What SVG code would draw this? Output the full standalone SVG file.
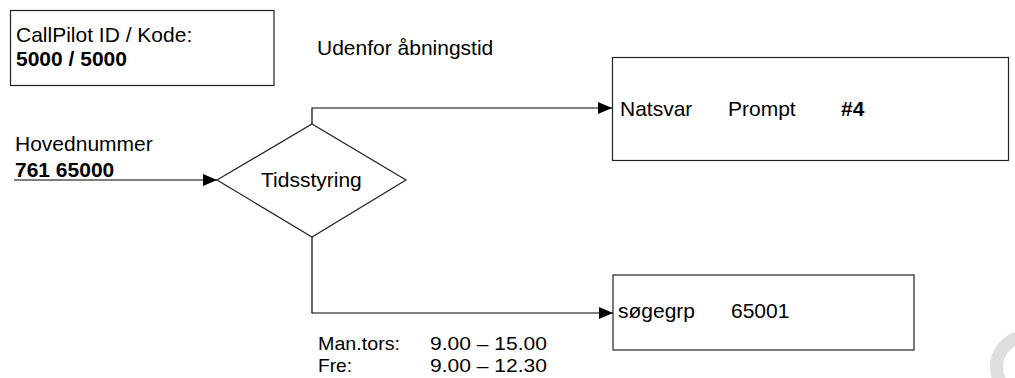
<svg xmlns="http://www.w3.org/2000/svg" width="1015" height="378" viewBox="0 0 1015 378">
  <defs>
    <marker id="arrow" markerWidth="14" markerHeight="12" refX="14" refY="6" orient="auto" markerUnits="userSpaceOnUse">
      <path d="M0,0 L14,6 L0,12 Z" fill="#000"/>
    </marker>
  </defs>
  <style>
    text { font-family: "Liberation Sans", Arial, sans-serif; font-size: 21px; fill: #000; }
    .b { font-weight: bold; }
    .sm { font-size: 19px; }
    .box { fill: #fff; stroke: #222; stroke-width: 1.2; }
    .conn { fill: none; stroke: #000; stroke-width: 1.2; }
  </style>
  <rect width="1015" height="378" fill="#fff"/>
  <circle cx="1027" cy="367" r="30.5" fill="none" stroke="#dedede" stroke-width="13"/>

  <g id="callpilot">
    <rect class="box" x="10.5" y="10.5" width="263.5" height="75"/>
    <text x="16" y="42">CallPilot ID / Kode:</text>
    <text class="b" x="16" y="66">5000 / 5000</text>
  </g>

  <g id="udenfor-label">
    <text x="317" y="55">Udenfor åbningstid</text>
  </g>

  <g id="hovednummer">
    <text x="15" y="151">Hovednummer</text>
    <text class="b" x="15" y="177">761 65000</text>
  </g>

  <g id="tidsstyring">
    <polygon class="box" points="217,180 312,124 406,180 312,237"/>
    <text x="261" y="187">Tidsstyring</text>
  </g>

  <g id="natsvar">
    <rect class="box" x="612.5" y="57.5" width="396" height="103"/>
    <text x="620" y="116">Natsvar</text>
    <text x="728" y="116">Prompt</text>
    <text class="b" x="841" y="116">#4</text>
  </g>

  <g id="soegegrp">
    <rect class="box" x="613" y="275" width="301" height="75"/>
    <text x="618" y="318">søgegrp</text>
    <text x="731" y="318">65001</text>
  </g>

  <g id="aabningstid">
    <text class="sm" x="318" y="350" textLength="82" lengthAdjust="spacingAndGlyphs">Man.tors:</text>
    <text class="sm" x="430" y="350" textLength="117" lengthAdjust="spacingAndGlyphs">9.00 – 15.00</text>
    <text class="sm" x="318" y="372" textLength="34" lengthAdjust="spacingAndGlyphs">Fre:</text>
    <text class="sm" x="430" y="372" textLength="117" lengthAdjust="spacingAndGlyphs">9.00 – 12.30</text>
  </g>

  <g id="connectors">
    <path class="conn" d="M14,180 L217,180" marker-end="url(#arrow)"/>
    <path class="conn" d="M312,124 L312,108 L612,108" marker-end="url(#arrow)"/>
    <path class="conn" d="M312,237 L312,313 L613,313" marker-end="url(#arrow)"/>
  </g>
</svg>
